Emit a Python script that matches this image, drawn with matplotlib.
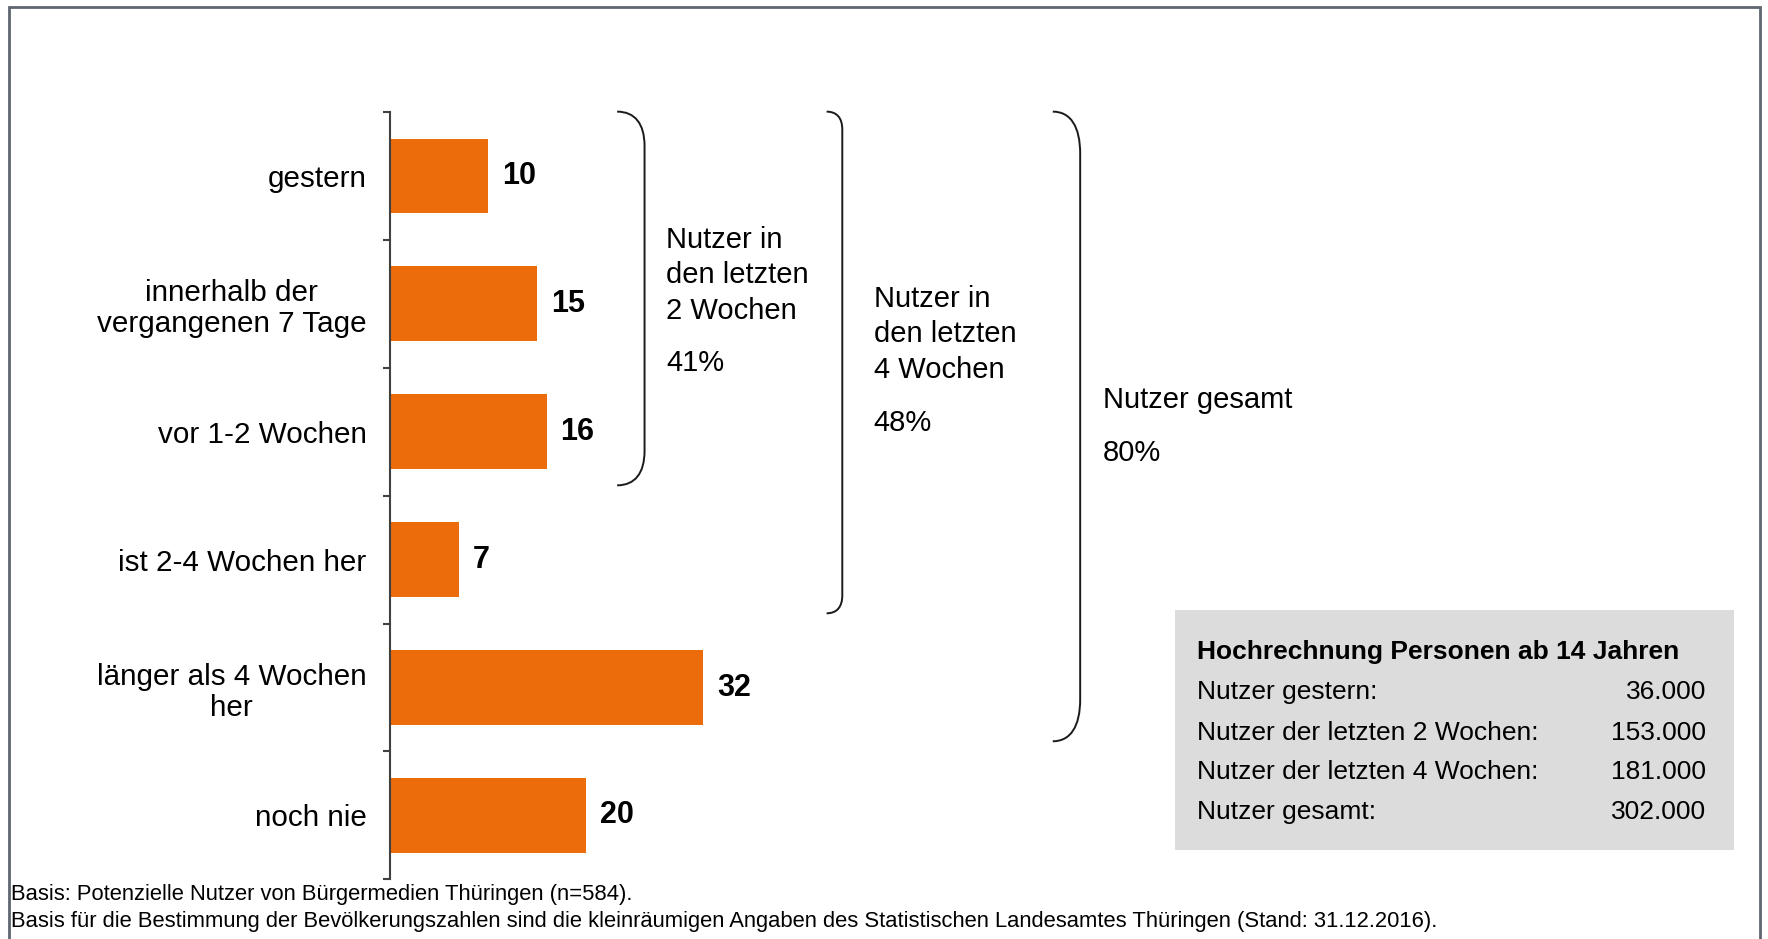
import matplotlib.pyplot as plt
import matplotlib as mpl
from matplotlib.path import Path
from matplotlib.patches import PathPatch, Rectangle

mpl.rcParams.update({
    'font.family': 'sans-serif',
    'font.sans-serif': ['Liberation Sans', 'Arial', 'DejaVu Sans'],
})

# data
categories = ['gestern', 'innerhalb der\nvergangenen 7 Tage', 'vor 1-2 Wochen',
              'ist 2-4 Wochen her', 'länger als 4 Wochen\nher', 'noch nie']
values = [10, 15, 16, 7, 32, 20]

group_labels = ['Nutzer in\nden letzten\n2 Wochen', 'Nutzer in\nden letzten\n4 Wochen', 'Nutzer gesamt']
group_shares = ['41%', '48%', '80%']
group_last = [2, 3, 4]

box_title = 'Hochrechnung Personen ab 14 Jahren'
box_rows = ['Nutzer gestern:', 'Nutzer der letzten 2 Wochen:',
            'Nutzer der letzten 4 Wochen:', 'Nutzer gesamt:']
box_values = ['36.000', '153.000', '181.000', '302.000']

notes = ['Basis: Potenzielle Nutzer von Bürgermedien Thüringen (n=584).',
         'Basis für die Bestimmung der Bevölkerungszahlen sind die kleinräumigen '
         'Angaben des Statistischen Landesamtes Thüringen (Stand: 31.12.2016).']

bar_color = '#EC6C0C'
axis_color = '#404040'

fig = plt.figure(figsize=(17.68, 9.39), dpi=100)
ax = fig.add_axes([0.2206, 0.0634, 0.5537, 0.8177])

pos = list(range(len(categories)))
ax.barh(pos, values, height=0.58, color=bar_color)
ax.set_xlim(0, 100)
ax.set_ylim(len(categories) - 0.5, -0.5)

for p, v in zip(pos, values):
    ax.annotate(str(v), (v, p), xytext=(10, 0), textcoords='offset points',
                va='center', ha='left', fontsize=22, fontweight='bold')

# ticks between categories, labels at centers
ax.set_yticks([p - 0.5 for p in pos] + [len(pos) - 0.5])
ax.set_yticklabels([])
ax.set_yticks(pos, minor=True)
ax.set_yticklabels(categories, minor=True, fontsize=21.3)
ax.tick_params(axis='y', which='major', direction='out', length=5, width=1.5, color=axis_color)
ax.tick_params(axis='y', which='minor', length=0, pad=17)
for lab in ax.get_yticklabels(minor=True):
    lab.set_multialignment('center')
    lab.set_linespacing(1.17)
ax.set_xticks([])
for s in ['top', 'right', 'bottom']:
    ax.spines[s].set_visible(False)
ax.spines['left'].set_color(axis_color)
ax.spines['left'].set_linewidth(1.5)


def bracket(ax, x0, x1, ytop, ybot, r):
    w = x1 - x0
    verts = [(x0, ytop), (x0 + 0.65 * w, ytop), (x1, ytop + 0.35 * r), (x1, ytop + r),
             (x1, ybot - r),
             (x1, ybot - 0.35 * r), (x0 + 0.65 * w, ybot), (x0, ybot)]
    codes = [Path.MOVETO, Path.CURVE4, Path.CURVE4, Path.CURVE4,
             Path.LINETO,
             Path.CURVE4, Path.CURVE4, Path.CURVE4]
    ax.add_patch(PathPatch(Path(verts, codes), fill=False, lw=1.4,
                           edgecolor='#1a1a1a', clip_on=False))


br_x0 = [23.2, 44.6, 67.7]
br_x1 = [26.0, 46.2, 70.5]
br_r = [0.27, 0.14, 0.33]
txt_x = [28.2, 49.4, 72.8]
txt_y = [0.78, 1.24, 1.755]
pct_y = [1.465, 1.93, 2.17]
for i in range(len(group_labels)):
    bracket(ax, br_x0[i], br_x1[i], -0.5, group_last[i] + 0.42, br_r[i])
    ax.text(txt_x[i], txt_y[i], group_labels[i], fontsize=21, va='center',
            ha='left', linespacing=1.33)
    ax.text(txt_x[i], pct_y[i], group_shares[i], fontsize=21, va='center', ha='left')

# grey info box
fig.add_artist(Rectangle((0.6646, 0.0948), 0.3162, 0.2556, transform=fig.transFigure,
                         facecolor='#dcdcdc', edgecolor='none'))
fig.text(0.6773, 0.306, box_title, fontsize=19, fontweight='bold', va='center')
row_y = [0.2627, 0.2194, 0.1774, 0.1354]
for y, lab, val in zip(row_y, box_rows, box_values):
    fig.text(0.6773, y, lab, fontsize=19, va='center')
    fig.text(0.965, y, val, fontsize=19, va='center', ha='right')

fig.text(0.0064, 0.0479, notes[0], fontsize=15.8, va='center')
fig.text(0.0064, 0.0191, notes[1], fontsize=15.8, va='center')

# frame
fig.add_artist(Rectangle((0.0051, -0.05), 0.9906, 1.0428, transform=fig.transFigure,
                         fill=False, edgecolor='#5f6670', lw=2))

plt.savefig('out.png', dpi=100)
plt.close()
